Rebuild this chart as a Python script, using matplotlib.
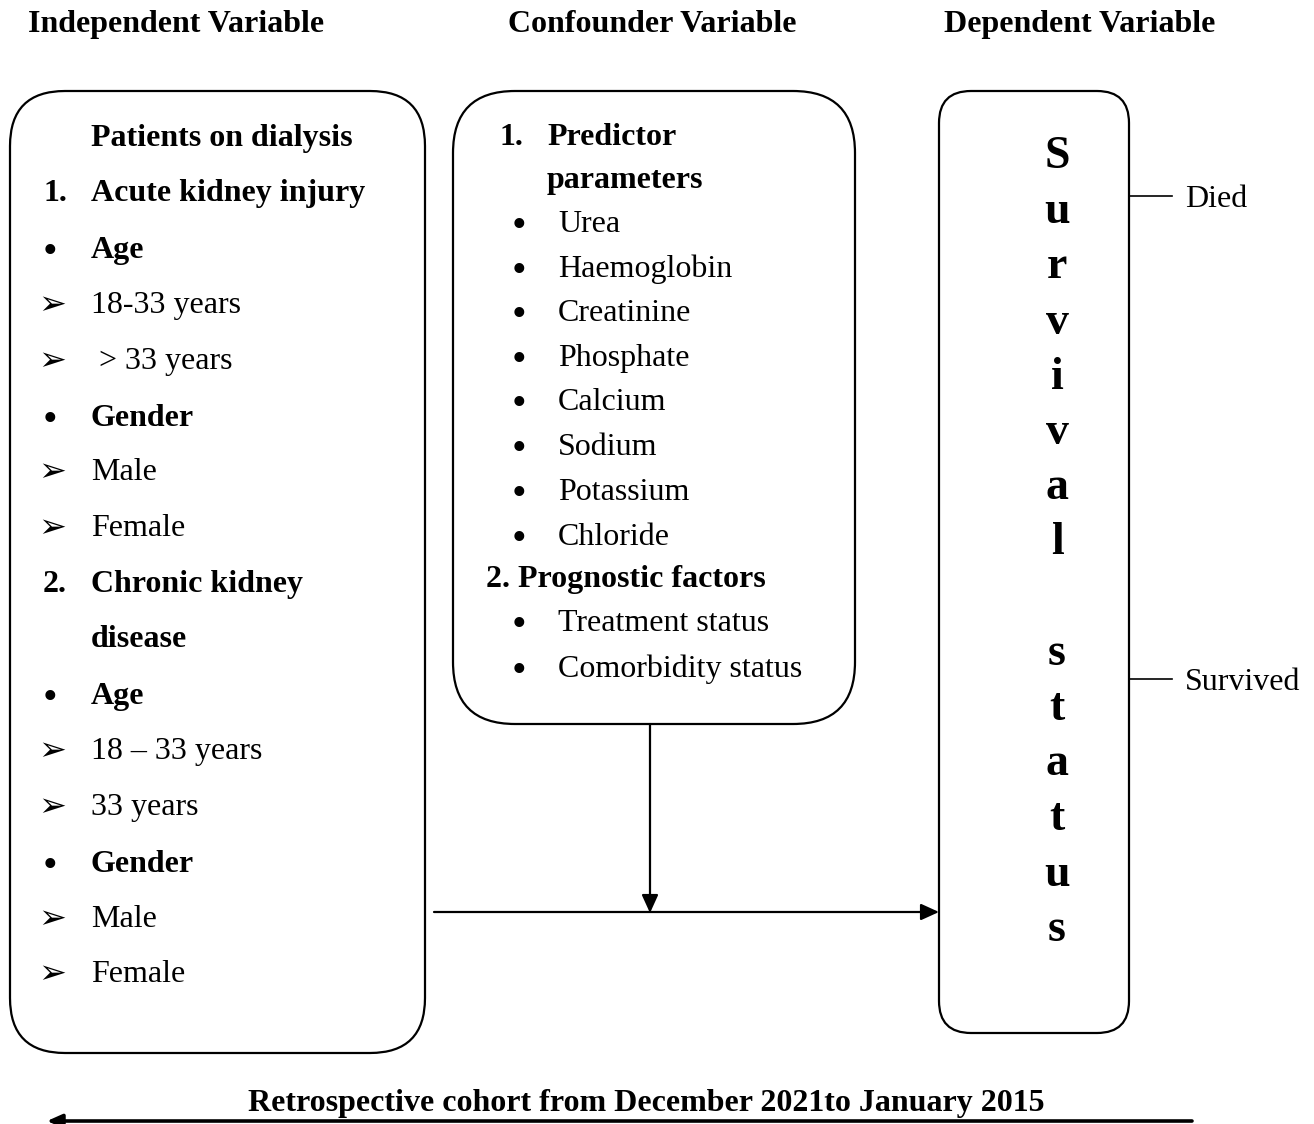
import matplotlib
matplotlib.use("Agg")
import matplotlib.pyplot as plt
from matplotlib.patches import FancyBboxPatch

SERIF = ['Liberation Serif', 'DejaVu Sans']

# ---- content ----
headers = ["Independent Variable", "Confounder Variable", "Dependent Variable"]

left_marks = ["", "1.", "\u2022", "\u27a2", "\u27a2", "\u2022", "\u27a2", "\u27a2",
              "2.", "", "\u2022", "\u27a2", "\u27a2", "\u2022", "\u27a2", "\u27a2"]
left_texts = ["Patients on dialysis", "Acute kidney injury", "Age", "18-33 years",
              " > 33 years", "Gender", "Male", "Female", "Chronic kidney", "disease",
              "Age", "18 \u2013 33 years", "33 years", "Gender", "Male", "Female"]
left_bold = [True, True, True, False, False, True, False, False, True, True,
             True, False, False, True, False, False]

mid_marks = ["1.", "", "\u2022", "\u2022", "\u2022", "\u2022", "\u2022", "\u2022",
             "\u2022", "\u2022", "", "\u2022", "\u2022"]
mid_texts = ["Predictor", "parameters", "Urea", "Haemoglobin", "Creatinine",
             "Phosphate", "Calcium", "Sodium", "Potassium", "Chloride",
             "2. Prognostic factors", "Treatment status", "Comorbidity status"]
mid_bold = [True, True, False, False, False, False, False, False, False, False,
            True, False, False]

outcome_word = "Survival status"
outcome_levels = ["Died", "Survived"]
footer = "Retrospective cohort from December 2021to January 2015"

# ---- layout (pixel coordinates) ----
W, H = 1314, 1124
fig = plt.figure(figsize=(W / 100, H / 100), dpi=100)
ax = fig.add_axes([0, 0, 1, 1])
ax.set_xlim(0, W)
ax.set_ylim(H, 0)
ax.axis('off')

FS = 23
LW = 1.6

def txt(x, y, s, bold=False, size=FS, ha='left', family=SERIF):
    ax.text(x, y, s, fontsize=size, ha=ha, va='center_baseline',
            fontweight='bold' if bold else 'normal', family=family, color='black')

def bullet(x, y):
    ax.text(x, y + 6, "\u2022", fontsize=30, ha='center', va='center', family=SERIF)

def arrowmark(x, y):
    ax.text(x, y + 3, "\u27a2", fontsize=24, ha='center', va='center',
            family=['DejaVu Sans'])

# headers
header_x = [28, 508, 944]
for hx, h in zip(header_x, headers):
    txt(hx, 21, h, bold=True, size=23)

# boxes: (x, y, w, h, radius)
boxes = [(10, 91, 415, 962, 55), (453, 91, 402, 633, 62), (939, 91, 190, 942, 32)]
for bx, by, bw, bh, r in boxes:
    ax.add_patch(FancyBboxPatch((bx, by), bw, bh,
                                boxstyle=f"round,pad=0,rounding_size={r}",
                                fc='white', ec='black', lw=LW))

# left box text
left_y = [135, 190, 247, 302, 358, 415, 469, 525, 581, 636, 693, 748, 804, 861, 916, 971]
for y, m, t, b in zip(left_y, left_marks, left_texts, left_bold):
    if m == "\u27a2":
        arrowmark(52, y)
    elif m == "\u2022":
        bullet(50, y)
    elif m:
        txt(43, y, m, bold=True)
    txt(91, y, t, bold=b)

# middle box text
mid_y = [134, 177, 221, 266, 310, 355, 399, 444, 489, 534, 576, 620, 666]
for y, m, t, b in zip(mid_y, mid_marks, mid_texts, mid_bold):
    if m == "1.":
        txt(500, y, m, bold=True)
        txt(547, y, t, bold=True)
    elif m == "\u2022":
        bullet(519, y)
        txt(558, y, t)
    elif t.startswith("2."):
        txt(486, y, t, bold=True)
    else:
        txt(547, y, t, bold=b)

# vertical outcome word
oy = 152
for ch in outcome_word:
    if ch != " ":
        ax.text(1057, oy, ch, fontsize=33, ha='center', va='center_baseline',
                fontweight='bold', family=SERIF)
    oy += 55.2

# outcome levels
level_y = [196, 679]
for ly, lab in zip(level_y, outcome_levels):
    ax.plot([1129, 1172], [ly, ly], color='black', lw=1.2)
    txt(1185, ly, lab)

# arrows
ax.annotate("", xy=(650, 913), xytext=(650, 724),
            arrowprops=dict(arrowstyle='-|>,head_length=1.1,head_width=0.5',
                            color='black', lw=LW, shrinkA=0, shrinkB=0))
ax.annotate("", xy=(939, 912), xytext=(434, 912),
            arrowprops=dict(arrowstyle='-|>,head_length=1.1,head_width=0.5',
                            color='black', lw=LW, shrinkA=0, shrinkB=0))

# footer
txt(646, 1100, footer, bold=True, size=23, ha='center')
ax.annotate("", xy=(47, 1121), xytext=(1192, 1121),
            arrowprops=dict(arrowstyle='-|>,head_length=0.9,head_width=0.4',
                            color='black', lw=2.6, shrinkA=0, shrinkB=0))

fig.savefig("out.png", dpi=100, facecolor='white')
